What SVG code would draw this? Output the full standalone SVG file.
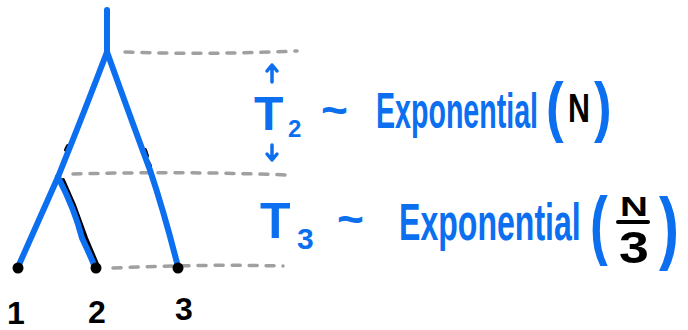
<svg xmlns="http://www.w3.org/2000/svg" width="688" height="330" viewBox="0 0 688 330">
<style>
.br{fill:none;stroke:#0b6ff0;stroke-width:6;stroke-linecap:round;stroke-linejoin:round}
.ol{fill:none;stroke:#000;stroke-width:4;stroke-linecap:round}
.dash{fill:none;stroke:#a0a0a0;stroke-width:3.5;stroke-linecap:round;stroke-dasharray:8 9}
.ar{fill:none;stroke:#0b6ff0;stroke-width:3.5;stroke-linecap:round;stroke-linejoin:round}
.bt{font-family:"Liberation Sans",Arial,sans-serif;fill:#0b6ff0;font-weight:bold}
.kt{font-family:"Liberation Sans",Arial,sans-serif;fill:#000;font-weight:bold}
.lbl{font-family:"Liberation Sans",Arial,sans-serif;fill:#000;font-weight:bold;font-size:32px;text-anchor:middle}
</style>
<rect width="688" height="330" fill="#fff"/>
<g id="connectors">
<path class="dash" d="M125 52 Q210 55 297 51"/>
<path class="dash" d="M73 174 Q180 171 288 175"/>
<path class="dash" d="M113 268 Q200 264 283 266"/>
<path class="ol" d="M63 180 L74 205 L86 238 L97 264"/>
<path class="ol" d="M66 150 L68 146 M145 150 L147 156 M148 162 L150 166" stroke-width="3"/>
<path class="br" d="M107 10 L107 52"/>
<path class="br" d="M107 52 Q85 110 58 177"/>
<path class="br" d="M107 52 Q135 130 150 170 Q165 215 178 267"/>
<path class="br" d="M58 177 L18 267"/>
<path class="br" d="M58 177 Q75 210 82 238 Q90 255 95 267"/>
<circle cx="18" cy="268" r="5.5"/>
<circle cx="96" cy="268" r="5.5"/>
<circle cx="178" cy="268" r="5.5"/>
<path class="ar" d="M272 82 L272 65 M267 71 L272 65 L277 71"/>
<path class="ar" d="M272 145 L272 160 M267 154 L272 160 L277 154"/>
</g>
<g id="leaf1"><text class="lbl" x="16" y="324">1</text></g>
<g id="leaf2"><text class="lbl" x="97" y="323">2</text></g>
<g id="leaf3"><text class="lbl" x="184" y="320">3</text></g>
<g id="t2">
<text class="bt" x="254" y="130" font-size="48">T</text>
<text class="bt" x="288" y="137" font-size="24">2</text>
<text class="bt" x="321" y="126" font-size="46">~</text>
<text class="bt" font-size="50" transform="translate(376 128) scale(0.572 1)">Exponential</text>
<text class="bt" font-size="66" transform="translate(546 129) scale(0.8 1)">(</text>
<text class="kt" font-size="40" transform="translate(568 122) scale(0.76 1)">N</text>
<text class="bt" font-size="66" transform="translate(594 129) scale(0.8 1)">)</text>
</g>
<g id="t3">
<text class="bt" x="260" y="238" font-size="50">T</text>
<text class="bt" x="297" y="249" font-size="30">3</text>
<text class="bt" x="337" y="235" font-size="46">~</text>
<text class="bt" font-size="52" transform="translate(399 240) scale(0.617 1)">Exponential</text>
<text class="bt" font-size="76" transform="translate(590 250) scale(0.7 1)">(</text>
<text class="kt" font-size="28" transform="translate(620 216) scale(1.38 1)">N</text>
<path d="M618 222 L648 222" stroke="#000" stroke-width="4" stroke-linecap="round"/>
<text class="kt" font-size="44" transform="translate(619 263) scale(1.22 1)">3</text>
<text class="bt" font-size="80" transform="translate(659 254) scale(0.75 1)">)</text>
</g>
</svg>
